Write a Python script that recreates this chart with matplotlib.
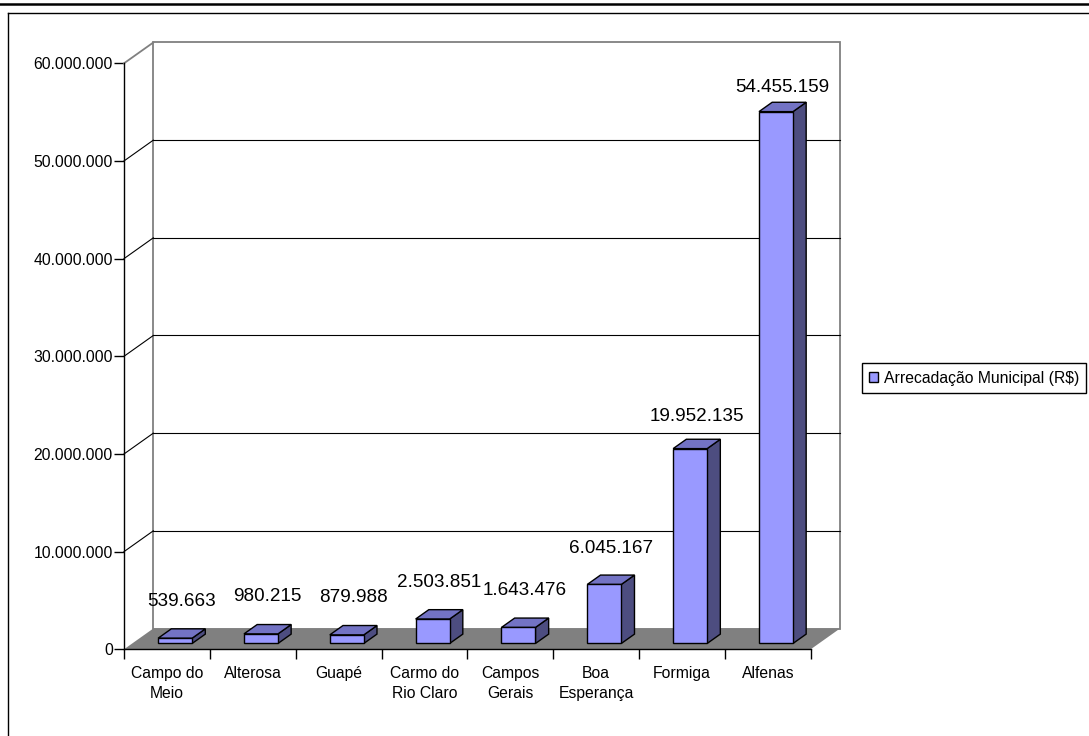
import matplotlib
matplotlib.use("Agg")
import matplotlib.pyplot as plt
from matplotlib.patches import Polygon, Patch
from matplotlib.lines import Line2D

plt.rcParams['font.family'] = ['Liberation Sans', 'DejaVu Sans']

# -------------------- data --------------------
municipios = ["Campo do\nMeio", "Alterosa", "Guapé", "Carmo do\nRio Claro",
              "Campos\nGerais", "Boa\nEsperança", "Formiga", "Alfenas"]
arrecadacao = [539663, 980215, 879988, 2503851, 1643476, 6045167, 19952135, 54455159]
serie = "Arrecadação Municipal (R$)"
y_ticks = [0, 10000000, 20000000, 30000000, 40000000, 50000000, 60000000]


def fmt_br(v):
    return f"{v:,.0f}".replace(",", ".")


# -------------------- layout (pixels) --------------------
W, H = 1089, 736
FS = 11.3        # axis / legend text
FS_LBL = 13.6    # value labels above bars
x0, x1 = 124, 810.7      # front plane left/right
y0, y1 = 649.3, 63.3     # front plane bottom/top

fig = plt.figure(figsize=(W / 100, H / 100), dpi=100)
fig.patch.set_facecolor("white")
ax = fig.add_axes([x0 / W, 1 - y0 / H, (x1 - x0) / W, (y0 - y1) / H])
n = len(municipios)
ymax = y_ticks[-1]
ax.set_xlim(0, n)
ax.set_ylim(0, ymax)
ax.patch.set_alpha(0)

# depth vector of the 3d box in data units
DX = 29.3 / ((x1 - x0) / n)
DY = 20.8 / ((y0 - y1) / ymax)
F = 0.28     # front of bars (fraction of depth)
BD = 0.45    # depth of bars (fraction of depth)
BW = 0.396   # bar width (fraction of category)

gray = "#808080"

# back wall
ax.add_patch(Polygon([(DX, DY), (n + DX, DY), (n + DX, ymax + DY), (DX, ymax + DY)],
                     closed=True, fc="white", ec=gray, lw=1.3, clip_on=False, zorder=1))
# gridlines on back wall and left wall
for v in y_ticks[1:-1]:
    ax.plot([DX, n + DX], [v + DY, v + DY], color="black", lw=0.8, clip_on=False, zorder=2)
    ax.plot([0, DX], [v, v + DY], color="black", lw=0.8, clip_on=False, zorder=2)
ax.plot([0, DX], [ymax, ymax + DY], color=gray, lw=1.3, clip_on=False, zorder=2)

# floor
ax.add_patch(Polygon([(0, 0), (n, 0), (n + DX, DY), (DX, DY)], closed=True,
                     fc=gray, ec="none", clip_on=False, zorder=3))

# bars
c_front, c_top, c_side = "#9999FF", "#7373C4", "#4D4D80"
bdx, bdy = BD * DX, BD * DY
for i, v in enumerate(arrecadacao):
    xf = i + 0.5 - BW / 2 + F * DX
    yb = F * DY
    front = [(xf, yb), (xf + BW, yb), (xf + BW, yb + v), (xf, yb + v)]
    top = [(xf, yb + v), (xf + BW, yb + v), (xf + BW + bdx, yb + v + bdy), (xf + bdx, yb + v + bdy)]
    side = [(xf + BW, yb), (xf + BW + bdx, yb + bdy), (xf + BW + bdx, yb + v + bdy), (xf + BW, yb + v)]
    for pts, col in ((side, c_side), (top, c_top), (front, c_front)):
        ax.add_patch(Polygon(pts, closed=True, fc=col, ec="black", lw=1.0,
                             joinstyle="miter", clip_on=False, zorder=4))
    ax.text(i + 0.5 + (F + BD / 2) * DX, v * 0.975 + 4400000, fmt_br(v),
            ha="center", va="center", fontsize=FS_LBL, zorder=5)

# axes
for s in ("top", "right"):
    ax.spines[s].set_visible(False)
for s in ("left", "bottom"):
    ax.spines[s].set_color("black")
    ax.spines[s].set_linewidth(1.0)
    ax.spines[s].set_zorder(6)

ax.set_yticks(y_ticks)
ax.set_yticklabels([fmt_br(v) for v in y_ticks])
ax.tick_params(axis="y", direction="out", length=7, width=1, pad=1, labelsize=FS, colors="black")

ax.set_xticks(range(n + 1))
ax.set_xticklabels([])
ax.set_xticks([i + 0.5 for i in range(n)], minor=True)
ax.set_xticklabels(municipios, minor=True, fontsize=FS, linespacing=1.45)
ax.tick_params(axis="x", which="major", direction="out", length=7, width=1, colors="black")
ax.tick_params(axis="x", which="minor", length=0, pad=12)

# legend (runs off the right edge like the original)
handle = Patch(fc=c_front, ec="black", lw=1.0)
fig.legend([handle], [serie], loc="center left", bbox_to_anchor=(862 / W, 1 - 378 / H),
           fontsize=FS, frameon=True, fancybox=False, edgecolor="black",
           handlelength=0.6, handleheight=0.6, handletextpad=0.35,
           borderpad=0.45, borderaxespad=0, framealpha=1)

# outer frame lines
fig.add_artist(Line2D([0, 1], [1 - 4 / H, 1 - 4 / H], color="black", lw=1.8, transform=fig.transFigure))
fig.add_artist(Line2D([8 / W, 1], [1 - 12.7 / H, 1 - 12.7 / H], color="black", lw=1.0, transform=fig.transFigure))
fig.add_artist(Line2D([8 / W, 8 / W], [0, 1 - 12.7 / H], color="black", lw=1.0, transform=fig.transFigure))

fig.savefig("out.png", dpi=100)
